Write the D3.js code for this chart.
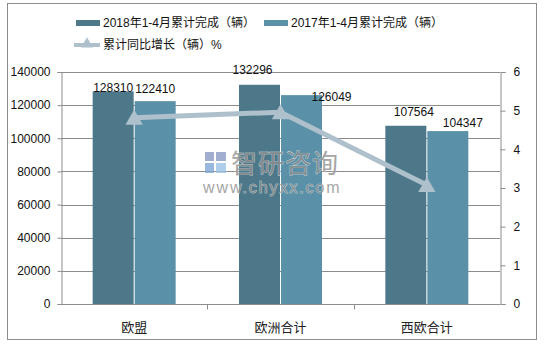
<!DOCTYPE html>
<html>
<head>
<meta charset="utf-8">
<script src="https://cdn.jsdelivr.net/npm/d3@7"></script>
<style>
  body { margin: 0; background: #fff; }
  svg text { font-family: "Liberation Sans", Arial, "Noto Sans CJK SC", sans-serif; }
</style>
</head>
<body>
<div id="chart"></div>
<script>
'use strict';

// Adatok
var categories = ["欧盟", "欧洲合计", "西欧合计"];
var values2018 = [128310, 132296, 107564];
var values2017 = [122410, 126049, 104347];
var growth = [4.82, 4.96, 3.08];
var leftTicks = [0, 20000, 40000, 60000, 80000, 100000, 120000, 140000];
var rightTicks = [0, 1, 2, 3, 4, 5, 6];
var seriesNames = ["2018年1-4月累计完成（辆）", "2017年1-4月累计完成（辆）", "累计同比增长（辆）%"];

// label nudges (dx, dy), like hand-moved Excel labels
var nudge2018 = [[0, -1], [-7, -13], [8, -12]];
var nudge2017 = [[0, -10], [30, 4], [15, -6]];

var W = 546, H = 345;
var margin = { left: 61, right: 46, top: 72, bottom: 41 };
var colDark = "#4d7889", colLight = "#5b91a8", colLine = "#adc0cc", gridCol = "#8c8c8c";

var svg = d3.select("#chart").append("svg")
    .attr("width", W).attr("height", H);

// keret
svg.append("rect")
    .attr("x", 7.5).attr("y", 3.5)
    .attr("width", 529).attr("height", 336)
    .attr("fill", "none").attr("stroke", "#8c8c8c").attr("stroke-width", 1);

var x0 = margin.left, x1 = W - margin.right, y0 = H - margin.bottom, y1 = margin.top;

var x = d3.scaleBand().domain(categories).range([x0, x1]).paddingInner(0).paddingOuter(0);
var y = d3.scaleLinear().domain([0, 140000]).range([y0, y1]);
var yR = d3.scaleLinear().domain([0, 6]).range([y0, y1]);

var barW = 41, barGap = 1;

// rácsvonalak
svg.append("g").selectAll("line").data(leftTicks.slice(1))
    .enter().append("line")
    .attr("x1", x0).attr("x2", x1)
    .attr("y1", function(d) { return Math.round(y(d)) + 0.5; })
    .attr("y2", function(d) { return Math.round(y(d)) + 0.5; })
    .attr("stroke", gridCol);

// bal tengely
var gL = svg.append("g").attr("transform", "translate(" + (x0 + 0.5) + ",0)")
    .call(d3.axisLeft(y).tickValues(leftTicks).tickSize(4).tickPadding(7).tickFormat(d3.format("d")));
// jobb tengely
var gR = svg.append("g").attr("transform", "translate(" + (x1 + 0.5) + ",0)")
    .call(d3.axisRight(yR).tickValues(rightTicks).tickSize(5).tickPadding(8).tickFormat(d3.format("d")));
// alsó tengely
var gB = svg.append("g").attr("transform", "translate(0," + (y0 + 0.5) + ")")
    .call(d3.axisBottom(x).tickSize(0).tickPadding(18));
gB.selectAll(".tick text").attr("font-size", 13).attr("fill", "#222");
gB.selectAll(".cat").data(categories.slice(1)).enter().append("line")
    .attr("x1", function(d) { return Math.round(x(d)) + 0.5; })
    .attr("x2", function(d) { return Math.round(x(d)) + 0.5; })
    .attr("y1", 0).attr("y2", 5).attr("stroke", gridCol);

[gL, gR, gB].forEach(function(g) {
    g.select(".domain").attr("stroke", gridCol);
    g.selectAll(".tick line").attr("stroke", gridCol);
});
gL.selectAll(".tick text").attr("font-size", 12).attr("fill", "#111");
gR.selectAll(".tick text").attr("font-size", 12).attr("fill", "#111");
gB.select(".domain").attr("d", "M" + x0 + ",0H" + x1);

// oszlopok
function barX(d, i, k) {
    var c = x(categories[i]) + x.bandwidth() / 2;
    return k === 0 ? c - barW - barGap / 2 : c + barGap / 2;
}

var gBars = svg.append("g");
gBars.selectAll(".b18").data(values2018).enter().append("rect")
    .attr("x", function(d, i) { return barX(d, i, 0); })
    .attr("y", function(d) { return y(d); })
    .attr("width", barW)
    .attr("height", function(d) { return y0 - y(d); })
    .attr("fill", colDark);
gBars.selectAll(".b17").data(values2017).enter().append("rect")
    .attr("x", function(d, i) { return barX(d, i, 1); })
    .attr("y", function(d) { return y(d); })
    .attr("width", barW)
    .attr("height", function(d) { return y0 - y(d); })
    .attr("fill", colLight);

// vízjel
var wm = svg.append("g").attr("opacity", 0.8);
wm.append("rect").attr("x", 205).attr("y", 152).attr("width", 9).attr("height", 9).attr("fill", "#8a9bc4");
wm.append("rect").attr("x", 216).attr("y", 152).attr("width", 10).attr("height", 9).attr("fill", "#8a9bc4");
wm.append("rect").attr("x", 205).attr("y", 163).attr("width", 9).attr("height", 10).attr("fill", "#7fa7d6");
wm.append("rect").attr("x", 216).attr("y", 163).attr("width", 10).attr("height", 10).attr("fill", "#9cc3e8");
wm.append("text").attr("x", 231).attr("y", 173)
    .attr("font-size", 26).attr("fill", "#8f8f8f")
    .attr("stroke", "#fff").attr("stroke-width", 0.6).attr("paint-order", "stroke")
    .style("font-family", "'Noto Sans CJK SC', sans-serif")
    .attr("letter-spacing", 1)
    .text("智研咨询");
wm.append("text").attr("x", 203).attr("y", 193)
    .attr("font-size", 16).attr("fill", "#8f8f8f")
    .attr("stroke", "#fff").attr("stroke-width", 0.6).attr("paint-order", "stroke")
    .attr("letter-spacing", 1.9)
    .text("www.chyxx.com");

// növekedési vonal
var pts = growth.map(function(g, i) {
    return [x(categories[i]) + x.bandwidth() / 2, yR(g)];
});
svg.append("path")
    .attr("d", d3.line()(pts))
    .attr("fill", "none").attr("stroke", colLine)
    .attr("stroke-width", 5).attr("stroke-linejoin", "round");
svg.selectAll(".mk").data(pts).enter().append("path")
    .attr("transform", function(d) { return "translate(" + d[0] + "," + (d[1] + 2) + ")"; })
    .attr("d", d3.symbol().type(d3.symbolTriangle).size(130))
    .attr("fill", colLine);

// adatcímkék
function labels(vals, k, nudge) {
    svg.selectAll(".lbl" + k).data(vals).enter().append("text")
        .attr("x", function(d, i) { return barX(d, i, k) + barW / 2 + nudge[i][0]; })
        .attr("y", function(d, i) { return y(d) + 2 + nudge[i][1]; })
        .attr("text-anchor", "middle")
        .attr("font-size", 12).attr("fill", "#111")
        .text(function(d) { return d; });
}
labels(values2018, 0, nudge2018);
labels(values2017, 1, nudge2017);

// jelkulcs
var lg = svg.append("g");
lg.append("rect").attr("x", 76).attr("y", 20).attr("width", 24).attr("height", 6).attr("fill", colDark);
lg.append("text").attr("x", 103).attr("y", 27).attr("font-size", 12).attr("fill", "#111").text(seriesNames[0]);
lg.append("rect").attr("x", 264).attr("y", 20).attr("width", 24).attr("height", 6).attr("fill", colLight);
lg.append("text").attr("x", 291).attr("y", 27).attr("font-size", 12).attr("fill", "#111").text(seriesNames[1]);
lg.append("line").attr("x1", 74).attr("x2", 100).attr("y1", 45).attr("y2", 45)
    .attr("stroke", colLine).attr("stroke-width", 4);
lg.append("path").attr("transform", "translate(87,44)")
    .attr("d", d3.symbol().type(d3.symbolTriangle).size(60)).attr("fill", colLine);
lg.append("text").attr("x", 103).attr("y", 49).attr("font-size", 12).attr("fill", "#111").text(seriesNames[2]);
</script>
</body>
</html>
